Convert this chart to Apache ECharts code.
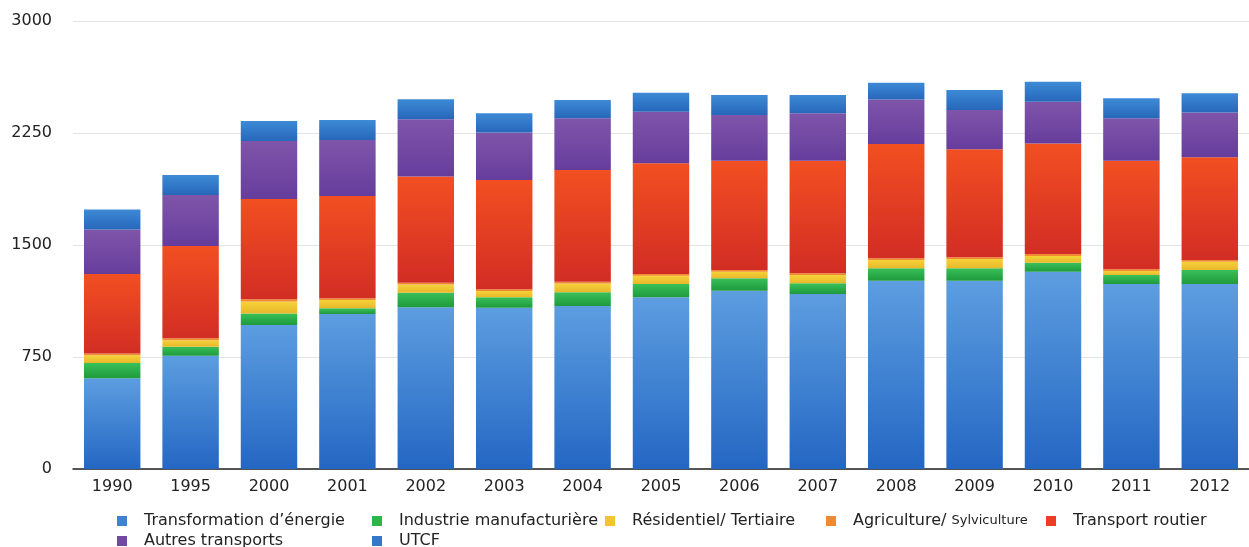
<!DOCTYPE html>
<html>
<head>
<meta charset="utf-8">
<script src="https://cdn.jsdelivr.net/npm/echarts@6/dist/echarts.min.js"></script>
<style>
  html, body { margin: 0; padding: 0; background: #fff; }
  #chart { width: 1249px; height: 547px; }
</style>
</head>
<body>
<div id="chart"></div>
<script>
// années et émissions
const years = ['1990', '1995', '2000', '2001', '2002', '2003', '2004', '2005', '2006', '2007', '2008', '2009', '2010', '2011', '2012']
const transformation = [607, 759, 964, 1038, 1083, 1080, 1091, 1150, 1194, 1172, 1261, 1261, 1321, 1239, 1239]
const industrie = [102, 60, 78, 38, 98, 70, 92, 89, 83, 72, 83, 83, 60, 60, 94]
const residentiel = [52, 44, 80, 55, 55, 42, 59, 55, 44, 55, 55, 62, 46, 27, 55]
const agriculture = [13, 12, 14, 12, 12, 12, 12, 12, 12, 12, 12, 12, 12, 11, 12]
const transportRoutier = [531, 618, 672, 685, 710, 732, 748, 741, 732, 754, 765, 723, 741, 727, 688]
const autresTransports = [299, 341, 388, 375, 384, 317, 346, 346, 306, 317, 299, 263, 279, 284, 299]
const utcf = [134, 134, 134, 134, 134, 130, 123, 127, 134, 123, 111, 134, 134, 134, 130]
const yTicks = [0, 750, 1500, 2250, 3000]

const font = '"DejaVu Sans", Arial, sans-serif'

function grad(top, bottom) {
  return new echarts.graphic.LinearGradient(0, 0, 0, 1, [
    { offset: 0, color: top },
    { offset: 1, color: bottom }
  ])
}

const seriesDefs = [
  { name: 'Transformation d\u2019énergie', data: transformation, color: grad('#5d9de0', '#2467c3'), icon: '#3f82d4' },
  { name: 'Industrie manufacturière', data: industrie, color: grad('#38c05a', '#1f9a3c'), icon: '#2db54a' },
  { name: 'Résidentiel/ Tertiaire', data: residentiel, color: grad('#f5d23a', '#e8b82a'), icon: '#f0c52e' },
  { name: 'Agriculture/ Sylviculture', data: agriculture, color: '#f08a30', icon: '#f08a30' },
  { name: 'Transport routier', data: transportRoutier, color: grad('#f24f22', '#d22d24'), icon: '#ee3d26' },
  { name: 'Autres transports', data: autresTransports, color: grad('#7f55aa', '#663d9c'), icon: '#7248a4' },
  { name: 'UTCF', data: utcf, color: grad('#3d8ad6', '#2767ba'), icon: '#3479c9' }
]

// positions des légendes (en deux lignes, comme l'original)
const legendPos = [
  [112, 508], [367, 508], [600, 508], [821, 508], [1041, 508],
  [112, 528], [367, 528]
]

const chart = echarts.init(document.getElementById('chart'))

chart.setOption({
  animation: false,
  grid: {
    left: 73,
    top: 21,
    width: 1186,
    bottom: 78,
    containLabel: false
  },
  legend: seriesDefs.map((s, i) => ({
    data: [{ name: s.name, itemStyle: { color: s.icon } }],
    left: legendPos[i][0],
    top: legendPos[i][1],
    itemWidth: 10,
    itemHeight: 10,
    icon: 'rect',
    selectedMode: false,
    formatter: function (name) {
      if (name === 'Agriculture/ Sylviculture') {
        return '{a|Agriculture/ }{b|Sylviculture}'
      }
      return '{a|' + name + '}'
    },
    textStyle: {
      color: '#222',
      fontFamily: font,
      fontSize: 16,
      rich: {
        a: { fontSize: 16, color: '#222', fontFamily: font, padding: [0, 0, 0, 12] },
        b: { fontSize: 13, color: '#222', fontFamily: font }
      }
    }
  })),
  xAxis: {
    type: 'category',
    data: years,
    axisTick: { show: false },
    axisLine: { show: true, lineStyle: { color: '#222', width: 1.5 } },
    axisLabel: { color: '#222', fontSize: 16, fontFamily: font, margin: 10 }
  },
  yAxis: {
    type: 'value',
    min: yTicks[0],
    max: yTicks[yTicks.length - 1],
    interval: 750,
    axisLine: { show: false },
    axisTick: { show: false },
    splitLine: { lineStyle: { color: '#e4e4e4', width: 1 } },
    axisLabel: {
      color: '#222',
      fontSize: 16,
      fontFamily: font,
      margin: 21,
      formatter: v => String(v)
    }
  },
  series: seriesDefs.map(s => ({
    name: s.name,
    type: 'bar',
    stack: 'total',
    barCategoryGap: '28%',
    data: s.data,
    itemStyle: { color: s.color }
  }))
})
</script>
</body>
</html>
